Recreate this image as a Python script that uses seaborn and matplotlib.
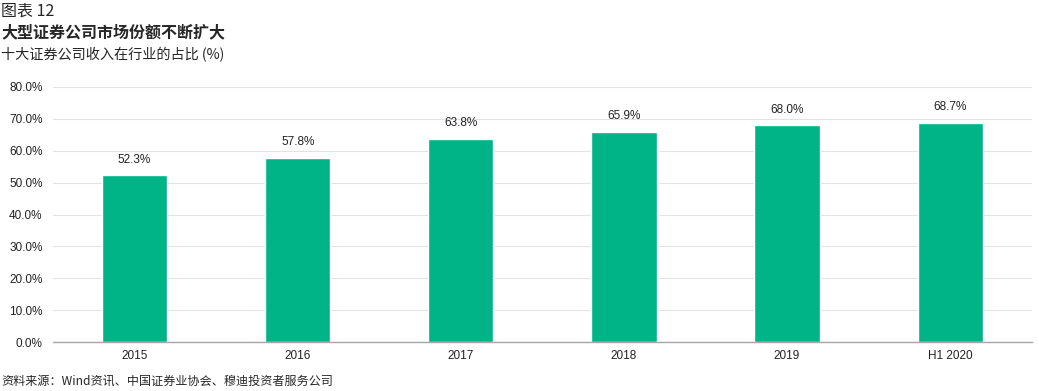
import matplotlib
matplotlib.use("Agg")
import matplotlib.pyplot as plt
import seaborn as sns
import pandas as pd

# 数据
categories = ["2015", "2016", "2017", "2018", "2019", "H1 2020"]
share = [52.3, 57.8, 63.8, 65.9, 68.0, 68.7]

sns.set_style("white")
plt.rcParams['font.family'] = ['Liberation Sans', 'Noto Sans CJK SC', 'DejaVu Sans']
cjk = ['Noto Sans CJK SC', 'DejaVu Sans']

df = pd.DataFrame({'cat': categories, 'val': share})

fig = plt.figure(figsize=(10.39, 3.91), dpi=100)
ax = fig.add_axes([0.051, 0.1253, 0.942, 0.6522])

sns.barplot(data=df, x='cat', y='val', color='#00B488', width=0.4,
            saturation=1, ax=ax, zorder=3)

ax.set_ylim(0, 80)
ax.set_xlim(-0.5, 5.5)
ax.set_yticks(range(0, 81, 10))
ax.set_yticklabels([f"{v:.1f}%" for v in range(0, 81, 10)], fontsize=8.5, color='#222222')
ax.tick_params(axis='x', labelsize=8.5, colors='#222222', length=0, pad=6)
ax.tick_params(axis='y', length=0, pad=7.5)
ax.set_xlabel('')
ax.set_ylabel('')
ax.grid(axis='y', color='#e3e3e3', linewidth=0.8, zorder=0)
for s in ['top', 'right', 'left']:
    ax.spines[s].set_visible(False)
ax.spines['bottom'].set_color('#a6a6a6')
ax.spines['bottom'].set_linewidth(1.0)
ax.spines['bottom'].set_zorder(4)

for i, v in enumerate(share):
    ax.text(i, v + 3.0, f"{v:.1f}%", ha='center', va='bottom', fontsize=8.5, color='#222222')

fig.text(0.001, 0.972, "图表 12", family=cjk, fontsize=11.5, va='center', ha='left')
fig.text(0.001, 0.916, "大型证券公司市场份额不断扩大", family=cjk, fontsize=11.5,
         fontweight='bold', va='center', ha='left')
fig.text(0.001, 0.86, "十大证券公司收入在行业的占比 (%)", family=cjk, fontsize=10.2,
         va='center', ha='left')
fig.text(0.001, 0.025, "资料来源：Wind资讯、中国证券业协会、穆迪投资者服务公司", family=cjk,
         fontsize=8.7, va='center', ha='left')

fig.savefig("out.png", dpi=100)
